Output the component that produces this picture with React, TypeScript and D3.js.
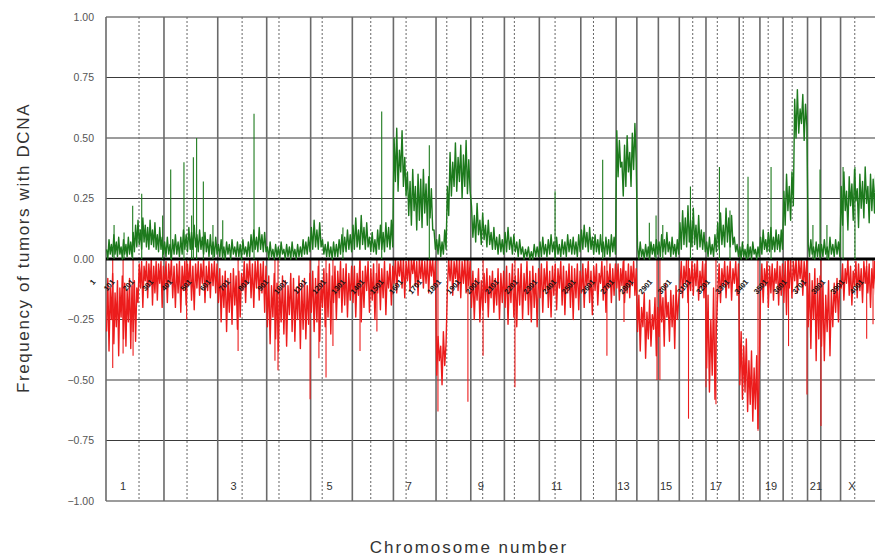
import React from 'react';
import * as d3 from 'd3';

// chromosome layout in clone (probe) index units
const chromNames = ['1', '2', '3', '4', '5', '6', '7', '8', '9', '10', '11', '12', '13', '14', '15', '16', '17', '18', '19', '20', '21', '22', 'X'];
const chromClones = [302, 280, 255, 229, 217, 214, 222, 181, 175, 182, 216, 184, 108, 112, 109, 139, 173, 108, 121, 127, 69, 103, 208];
const centromereAt = [172, 120, 127, 64, 60, 96, 66, 56, 62, 52, 82, 66, null, null, null, 70, 59, 21, 43, 47, null, null, 74];
const labelChroms = ['1', '3', '5', '7', '9', '11', '13', '15', '17', '19', '21', 'X'];
const labelClones = [89, 664, 1164, 1577, 1952, 2347, 2695, 2917, 3177, 3464, 3698, 3885];
const yTicks = [1, 0.75, 0.5, 0.25, 0, -0.25, -0.5, -0.75, -1];

// frequency of gains (%), read along each chromosome
const gainPct = [
  [4, 0, 8, 2, 6, 1, 10, 2, 7, 1, 9, 2, 5, 0, 8, 2, 6, 1, 9, 2, 7, 1, 11, 3, 14, 5, 16, 6, 12, 4, 17, 7, 14, 5, 13, 4, 16, 6, 12, 5, 15, 4, 10, 3, 13, 4, 9, 2],
  [7, 1, 9, 2, 6, 0, 8, 2, 10, 2, 7, 1, 9, 2, 12, 4, 10, 3, 13, 4, 11, 4, 14, 5, 10, 3, 12, 4, 9, 2, 11, 3, 8, 1, 10, 2, 7, 1, 9, 2],
  [6, 1, 8, 1, 5, 0, 7, 2, 6, 0, 8, 2, 5, 1, 7, 1, 6, 0, 8, 2, 5, 1, 7, 1, 10, 3, 12, 4, 9, 3, 13, 4, 10, 3, 11, 3],
  [5, 0, 7, 1, 4, 0, 6, 1, 5, 0, 7, 2, 4, 0, 6, 1, 5, 0, 7, 1, 4, 0, 6, 1, 5, 1, 8, 2, 7, 2, 9, 3],
  [13, 4, 16, 5, 12, 4, 15, 5, 8, 2, 6, 1, 7, 1, 5, 0, 7, 1, 6, 1, 8, 2, 10, 3, 9, 3, 12, 4, 10, 3],
  [14, 4, 17, 5, 12, 4, 18, 6, 13, 4, 15, 5, 9, 3, 11, 3, 8, 2, 12, 4, 14, 4, 11, 3, 15, 5, 13, 4, 16, 5],
  [50, 32, 54, 28, 45, 36, 53, 30, 42, 26, 36, 18, 32, 14, 37, 20, 30, 12, 35, 16, 33, 13, 37, 19, 31, 14, 34, 17, 29, 12, 12, 4],
  [8, 2, 10, 1, 7, 2, 12, 4, 30, 18, 44, 26, 40, 30, 48, 28, 42, 32, 47, 25, 43, 30, 49, 27, 41, 28],
  [22, 9, 18, 7, 23, 10, 16, 6, 19, 8, 14, 5, 16, 6, 11, 4, 13, 4, 9, 2, 10, 3, 8, 2],
  [11, 3, 13, 4, 9, 2, 10, 3, 7, 1, 8, 2, 5, 0, 4, 1, 5, 0, 3, 0, 6, 1, 5, 1],
  [7, 1, 9, 2, 6, 1, 8, 2, 10, 3, 7, 1, 9, 2, 6, 1, 8, 2, 7, 1, 10, 3, 8, 2, 9, 2, 7, 1, 10, 3],
  [12, 4, 14, 5, 11, 3, 13, 4, 9, 2, 10, 3, 8, 2, 10, 3, 7, 1, 9, 2, 8, 1, 10, 3, 9, 2],
  [53, 34, 49, 38, 40, 26, 47, 30, 51, 36, 44, 30, 52, 37, 56, 40],
  [5, 0, 7, 1, 4, 0, 6, 1, 5, 0, 7, 2, 6, 1, 8, 2],
  [7, 1, 10, 3, 8, 2, 11, 3, 7, 1, 9, 2, 6, 1, 8, 2],
  [15, 4, 20, 6, 17, 5, 22, 7, 16, 5, 21, 6, 14, 4, 18, 5, 12, 4, 11, 3],
  [7, 1, 9, 2, 6, 1, 10, 3, 15, 4, 19, 6, 14, 5, 21, 7, 17, 5, 18, 6, 9, 3, 6, 1],
  [5, 0, 7, 1, 4, 0, 6, 1, 5, 0, 7, 2, 4, 0, 5, 1],
  [9, 2, 12, 4, 8, 3, 11, 3, 13, 4, 9, 3, 12, 4, 10, 3, 12, 4],
  [28, 14, 35, 20, 30, 16, 36, 22, 66, 50, 70, 52, 62, 56, 68, 49, 64, 55],
  [6, 1, 8, 2, 5, 0, 7, 1, 6, 1],
  [6, 1, 8, 2, 5, 0, 9, 2, 6, 1, 8, 2, 7, 1],
  [30, 14, 36, 20, 28, 12, 34, 22, 31, 16, 37, 24, 29, 13, 35, 21, 32, 17, 38, 23, 30, 15, 35, 20, 33, 19, 37, 24, 34, 21],
];

// frequency of losses (%), negative
const lossPct = [
  [-30, -8, -38, -12, -25, -6, -35, -14, -28, -9, -40, -12, -24, -7, -33, -10, -36, -13, -26, -8, -37, -11, -30, -9, -34, -12, -18, -2, -12, -1, -20, -3, -9, -1, -16, -2, -11, 0, -19, -3, -14, -1, -17, -2, -10, -1, -20, -3],
  [-12, -1, -18, -2, -10, 0, -16, -3, -20, -2, -14, -1, -22, -3, -13, -1, -19, -2, -11, 0, -17, -3, -21, -2, -12, -1, -15, -2, -10, 0, -18, -3, -13, -1, -16, -2, -11, -1, -14, -2],
  [-18, -4, -26, -7, -20, -5, -30, -8, -22, -6, -27, -4, -19, -7, -29, -5, -24, -6, -13, -1, -18, -2, -10, 0, -16, -2, -20, -1, -12, 0, -17, -2, -14, -1, -22, -3],
  [-28, -7, -35, -11, -24, -6, -33, -10, -38, -12, -26, -7, -31, -9, -36, -11, -23, -6, -30, -8, -34, -12, -25, -7, -37, -10, -29, -8, -33, -11, -27, -6],
  [-22, -5, -30, -8, -26, -3, -34, -9, -20, -4, -28, -6, -24, -2, -31, -7, -18, -3, -25, -5, -16, -1, -22, -4, -19, -2, -24, -6, -17, -3],
  [-18, -3, -24, -6, -15, -1, -26, -5, -20, -3, -13, -1, -22, -4, -17, -2, -25, -6, -14, -2, -21, -4, -16, -1, -23, -5, -12, -2, -19, -3],
  [-10, 0, -14, -1, -7, 0, -12, 0, -16, -1, -9, 0, -13, 0, -6, 0, -11, -1, -15, 0, -8, 0, -12, -1, -10, 0, -14, 0, -7, 0, -11, -1],
  [-48, -32, -42, -36, -52, -30, -44, -35, -12, 0, -9, 0, -15, -1, -8, 0, -13, 0, -16, -1, -10, 0, -14, 0, -11, -1],
  [-20, -5, -25, -8, -17, -4, -26, -9, -21, -6, -18, -4, -24, -7, -16, -5, -22, -8, -19, -4, -25, -6, -18, -5],
  [-20, -3, -27, -6, -18, -2, -24, -7, -28, -4, -19, -2, -25, -6, -17, -1, -23, -5, -26, -3, -20, -6, -28, -4],
  [-16, -2, -22, -4, -13, -1, -20, -5, -24, -3, -15, -2, -21, -4, -12, -1, -19, -3, -23, -5, -14, -2, -20, -3, -25, -4, -16, -2, -21, -5],
  [-14, -2, -20, -4, -11, -1, -18, -5, -23, -3, -13, -2, -19, -6, -10, -1, -17, -3, -22, -5, -12, -2, -18, -4, -15, -2],
  [-12, -2, -17, -4, -11, -1, -18, -5, -14, -2, -16, -3, -11, -1, -15, -4],
  [-30, -15, -38, -20, -28, -14, -41, -22, -33, -17, -36, -23, -29, -16, -40, -20],
  [-32, -12, -26, -16, -36, -10, -24, -18, -34, -13, -28, -15, -37, -11, -25, -17],
  [-12, -1, -16, -3, -10, 0, -18, -4, -13, -1, -15, -2, -11, 0, -17, -5, -12, -1, -16, -2],
  [-45, -15, -55, -25, -48, -12, -58, -28, -14, -2, -18, -4, -11, -1, -16, -3, -12, -1, -17, -4, -10, -1, -15, -2],
  [-52, -30, -58, -36, -55, -33, -63, -42, -60, -38, -67, -45, -62, -40, -70, -46],
  [-13, -2, -18, -4, -11, -1, -20, -3, -14, -2, -17, -4, -10, -1, -19, -3, -15, -2],
  [-18, -1, -23, 0, -12, 0, -16, -1, -9, 0, -14, 0, -8, 0, -15, -1, -11, 0],
  [-28, -6, -37, -9, -25, -4, -42, -8, -33, -7],
  [-36, -10, -42, -15, -30, -9, -40, -13, -28, -10, -22, -8, -26, -9],
  [-12, -2, -17, -4, -10, 0, -15, -3, -19, -5, -11, -1, -16, -2, -13, -4, -18, -1, -10, -3, -14, -2, -20, -4, -12, -1, -17, -3, -15, -2],
];

// single-clone peaks: [clone index, %]
const gainSpikes = [
  [42, 14], [94, 11], [139, 22], [186, 27], [295, 18], [337, 37], [406, 40], [446, 18], [455, 42], [472, 50],
  [507, 32], [557, 14], [608, 16], [771, 60], [1234, 13], [1436, 61], [1684, 47], [2339, 28], [2587, 41],
  [2830, 15], [2865, 18], [2900, 14], [3044, 30], [3195, 38], [3250, 20], [3344, 34], [3464, 38], [3682, 14],
  [3719, 37], [3755, 14], [3839, 38], [3901, 38],
];
const lossSpikes = [
  [35, -45], [89, -39], [141, -40], [420, -25], [688, -38], [880, -42], [896, -46], [1063, -58], [1109, -41],
  [1146, -49], [1182, -36], [1323, -38], [1411, -30], [1729, -63], [1885, -59], [1964, -40], [2130, -53],
  [2609, -40], [2698, -26], [2870, -50], [2885, -50], [3034, -66], [3125, -53], [3177, -60], [3396, -71],
  [3555, -36], [3651, -56], [3724, -69], [3962, -33], [3995, -27],
];

const W = 875;
const H = 559;
const GREEN = '#1d7a1d';
const RED = '#ec1c1c';
const FONT = '"Liberation Sans", Arial, sans-serif';

const App = () => {
  const total = d3.sum(chromClones);
  const starts = [0, ...Array.from(d3.cumsum(chromClones))];

  const x = d3.scaleLinear().domain([0, total]).range([106, 880.5]);
  const y = d3.scaleLinear().domain([-1, 1]).range([501, 17]);

  const toPoints = (series: number[][]) =>
    series.flatMap((vals, i) =>
      vals.map((v, j) => ({
        c: starts[i] + ((j + 0.5) * chromClones[i]) / vals.length,
        v: v / 100,
      }))
    );

  const line = d3.line<{ c: number; v: number }>()
    .x(d => x(d.c))
    .y(d => y(d.v));

  const gainPath = line(toPoints(gainPct)) || '';
  const lossPath = line(toPoints(lossPct)) || '';
  const cloneTicks = d3.range(0, total, 100);

  return (
    <svg width={W} height={H} style={{ position: 'absolute', left: 0, top: 0, background: '#fff' }}>
      {/* horizontal grid */}
      {yTicks.map(t => (
        <line key={'h' + t} x1={x(0)} x2={x(total)} y1={y(t)} y2={y(t)} stroke="#3a3a3a" strokeWidth={1.2} />
      ))}
      {/* centromeres */}
      {centromereAt.map((c, i) =>
        c == null ? null : (
          <line key={'c' + chromNames[i]} x1={x(starts[i] + c)} x2={x(starts[i] + c)} y1={y(1)} y2={y(-1)}
            stroke="#666" strokeWidth={1} strokeDasharray="2,2" />
        )
      )}
      {/* chromosome boundaries */}
      {starts.map((s, i) => (
        <line key={'v' + i} x1={x(s)} x2={x(s)} y1={y(1)} y2={y(-1)} stroke="#6a6a6a" strokeWidth={1.6} />
      ))}

      {/* y tick labels */}
      {yTicks.map(t => (
        <text key={'t' + t} x={94} y={y(t)} dy="0.35em" textAnchor="end" fontSize={10.5}
          fontFamily={FONT} fill="#555">
          {d3.format('.2f')(t)}
        </text>
      ))}

      {/* losses */}
      {lossSpikes.map(([c, v], i) => (
        <line key={'ls' + i} x1={x(c)} x2={x(c)} y1={y(0)} y2={y(v / 100)} stroke={RED} strokeWidth={1.1} />
      ))}
      <path d={lossPath} fill="none" stroke={RED} strokeWidth={1.4} strokeLinejoin="round" />

      {/* zero line */}
      <line x1={x(0)} x2={x(total)} y1={y(0)} y2={y(0)} stroke="#000" strokeWidth={3} />

      {/* gains */}
      <path d={gainPath} fill="none" stroke={GREEN} strokeWidth={1.4} strokeLinejoin="round" />
      {gainSpikes.map(([c, v], i) => (
        <line key={'gs' + i} x1={x(c)} x2={x(c)} y1={y(0)} y2={y(v / 100)} stroke={GREEN} strokeWidth={1.1} />
      ))}

      {/* clone index labels */}
      {cloneTicks.map(p => (
        <text key={'p' + p} transform={`translate(${x(p) - 10},${282}) rotate(-50)`} textAnchor="end"
          fontSize={7.5} fontWeight="bold" fontFamily={FONT} fill="#111">
          {p + 1}
        </text>
      ))}

      {/* chromosome labels */}
      {labelChroms.map((n, i) => (
        <text key={'n' + n} x={x(labelClones[i])} y={490} textAnchor="middle" fontSize={11}
          fontFamily={FONT} fill="#333">
          {n}
        </text>
      ))}

      <text x={469} y={553} textAnchor="middle" fontSize={17} letterSpacing={2} fontFamily={FONT} fill="#333">
        Chromosome number
      </text>
      <text transform="translate(28.5,248) rotate(-90)" textAnchor="middle" fontSize={17} letterSpacing={1.6}
        fontFamily={FONT} fill="#333">
        Frequency of tumors with DCNA
      </text>
    </svg>
  );
};

export default App;
